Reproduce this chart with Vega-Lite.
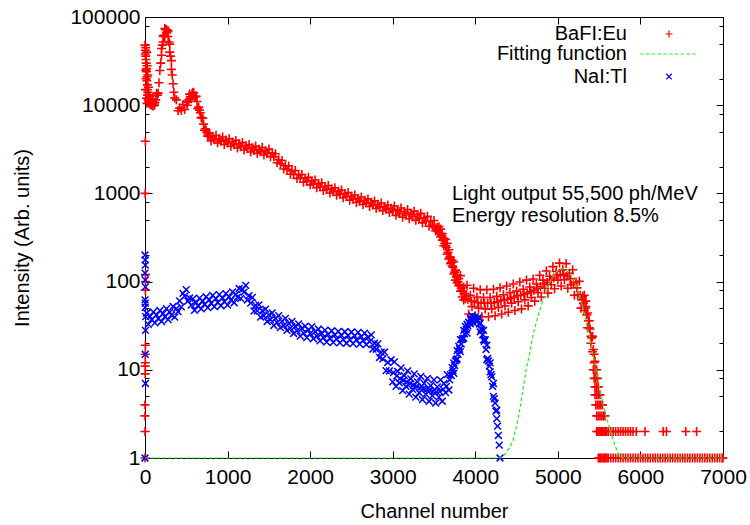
{
  "$schema": "https://vega.github.io/schema/vega-lite/v6.json",
  "width": 578,
  "height": 441,
  "autosize": {"type": "none"},
  "padding": {"left": 145, "top": 17, "right": 27, "bottom": 67},
  "background": "white",
  "datasets": {
    "bafi": [
      {"c":0,"v":1},{"c":0,"v":2},{"c":0,"v":3},{"c":0,"v":4},{"c":2,"v":9},{"c":2,"v":11},{"c":3,"v":12},{"c":3,"v":15},{"c":4,"v":19},{"c":5,"v":80},{"c":6,"v":100},{"c":6,"v":120},{"c":2,"v":1000},{"c":4,"v":3900},
      {"c":0,"v":48000},{"c":5,"v":42000},{"c":10,"v":36000},{"c":15,"v":30000},{"c":20,"v":26000},{"c":25,"v":21000},{"c":30,"v":17000},{"c":35,"v":14000},{"c":40,"v":12000},{"c":45,"v":11000},{"c":8,"v":45000},{"c":12,"v":33000},{"c":18,"v":24000},{"c":22,"v":19000},{"c":28,"v":15000},{"c":32,"v":13000},{"c":38,"v":11500},{"c":50,"v":10500},{"c":3,"v":38000},{"c":26,"v":28000},{"c":14,"v":20000},{"c":42,"v":16000},{"c":6,"v":15000},{"c":16,"v":12000},{"c":48,"v":13000},{"c":24,"v":10500},{"c":34,"v":22000},{"c":20,"v":40000},{"c":10,"v":25000},
      {"c":60,"v":12600},{"c":80,"v":10000},{"c":100,"v":10800},{"c":120,"v":10700},{"c":140,"v":13700},{"c":160,"v":13700},{"c":180,"v":24700},{"c":200,"v":36900},{"c":220,"v":60300},{"c":240,"v":60200},{"c":260,"v":72100},{"c":280,"v":60100},{"c":300,"v":49300},{"c":320,"v":25500},{"c":340,"v":17500},{"c":360,"v":12100},{"c":380,"v":11500},{"c":400,"v":8660},{"c":420,"v":9270},{"c":440,"v":8730},{"c":460,"v":10190},{"c":480,"v":8940},{"c":500,"v":10800},{"c":520,"v":10960},{"c":540,"v":13370},{"c":560,"v":11860},{"c":580,"v":14000},{"c":600,"v":12610},{"c":620,"v":12600},{"c":640,"v":9120},{"c":660,"v":8760},{"c":680,"v":7280},{"c":700,"v":7120},{"c":720,"v":5200},{"c":740,"v":5150},{"c":760,"v":4460},{"c":780,"v":4820},{"c":800,"v":3920},{"c":820,"v":4380},{"c":840,"v":4070},{"c":860,"v":4550},{"c":880,"v":3740},{"c":900,"v":4170},{"c":920,"v":3900},{"c":940,"v":4360},{"c":960,"v":3590},{"c":980,"v":4020},{"c":1000,"v":3730},
      {"c":65,"v":10200},{"c":70,"v":11500},{"c":90,"v":11000},{"c":95,"v":9800},{"c":110,"v":10300},{"c":115,"v":10000},{"c":130,"v":11500},{"c":150,"v":13000},{"c":170,"v":18000},{"c":190,"v":30000},{"c":200,"v":44000},{"c":210,"v":48000},{"c":220,"v":52000},{"c":230,"v":62000},{"c":240,"v":74000},{"c":250,"v":72000},{"c":260,"v":66000},{"c":270,"v":68000},{"c":280,"v":70000},{"c":290,"v":52000},{"c":300,"v":40000},{"c":310,"v":36000},{"c":320,"v":32000},{"c":330,"v":22000},{"c":350,"v":14000},
      {"c":510,"v":10000},{"c":530,"v":11500},{"c":550,"v":12500},{"c":570,"v":13500},{"c":590,"v":13800},{"c":610,"v":12500},{"c":630,"v":11000},{"c":650,"v":9500},{"c":670,"v":8200},{"c":690,"v":7100},{"c":710,"v":6100},{"c":730,"v":5400},{"c":750,"v":4900},{"c":770,"v":4500},{"c":790,"v":4400},
      {"c":1020,"v":4160},{"c":1040,"v":3430},{"c":1060,"v":3830},{"c":1080,"v":3570},{"c":1100,"v":3990},{"c":1120,"v":3270},{"c":1140,"v":3650},{"c":1160,"v":3390},{"c":1180,"v":3780},{"c":1200,"v":3100},{"c":1220,"v":3460},{"c":1240,"v":3220},{"c":1260,"v":3590},{"c":1280,"v":2950},{"c":1300,"v":3300},{"c":1320,"v":3070},{"c":1340,"v":3440},{"c":1360,"v":2840},{"c":1380,"v":3170},{"c":1400,"v":2960},{"c":1420,"v":3310},{"c":1440,"v":2730},{"c":1460,"v":3050},{"c":1480,"v":2840},{"c":1500,"v":3180},{"c":1520,"v":2610},{"c":1540,"v":2860},{"c":1560,"v":2600},{"c":1580,"v":2810},{"c":1600,"v":2230},{"c":1620,"v":2410},{"c":1640,"v":2170},{"c":1660,"v":2360},{"c":1680,"v":1890},{"c":1700,"v":2060},{"c":1720,"v":1870},{"c":1740,"v":2050},{"c":1760,"v":1650},{"c":1780,"v":1800},{"c":1800,"v":1650},{"c":1820,"v":1820},{"c":1840,"v":1480},{"c":1860,"v":1630},{"c":1880,"v":1490},{"c":1900,"v":1640},{"c":1920,"v":1340},{"c":1940,"v":1480},{"c":1960,"v":1370},{"c":1980,"v":1520},{"c":2000,"v":1250},
      {"c":2020,"v":1385},{"c":2040,"v":1280},{"c":2060,"v":1420},{"c":2080,"v":1160},{"c":2100,"v":1290},{"c":2120,"v":1190},{"c":2140,"v":1320},{"c":2160,"v":1080},{"c":2180,"v":1200},{"c":2200,"v":1110},{"c":2220,"v":1230},{"c":2240,"v":1010},{"c":2260,"v":1125},{"c":2280,"v":1045},{"c":2300,"v":1160},{"c":2320,"v":952},{"c":2340,"v":1060},{"c":2360,"v":982},{"c":2380,"v":1092},{"c":2400,"v":894},{"c":2420,"v":993},{"c":2440,"v":920},{"c":2460,"v":1021},{"c":2480,"v":835},{"c":2500,"v":927},{"c":2520,"v":861},{"c":2540,"v":960},{"c":2560,"v":788},{"c":2580,"v":878},{"c":2600,"v":815},{"c":2620,"v":910},{"c":2640,"v":748},{"c":2660,"v":834},{"c":2680,"v":776},{"c":2700,"v":866},{"c":2720,"v":711},{"c":2740,"v":793},{"c":2760,"v":737},{"c":2780,"v":822},{"c":2800,"v":675},{"c":2820,"v":752},{"c":2840,"v":698},{"c":2860,"v":778},{"c":2880,"v":638},{"c":2900,"v":711},{"c":2920,"v":662},{"c":2940,"v":739},{"c":2960,"v":607},{"c":2980,"v":678},{"c":3000,"v":631},
      {"c":3020,"v":719},{"c":3040,"v":564},{"c":3060,"v":651},{"c":3080,"v":593},{"c":3100,"v":683},{"c":3120,"v":538},{"c":3140,"v":622},{"c":3160,"v":568},{"c":3180,"v":656},{"c":3200,"v":516},{"c":3220,"v":597},{"c":3240,"v":545},{"c":3260,"v":629},{"c":3280,"v":495},{"c":3300,"v":572},{"c":3320,"v":518},{"c":3340,"v":594},{"c":3360,"v":463},{"c":3380,"v":530},{"c":3400,"v":480},{"c":3420,"v":549},{"c":3440,"v":425},{"c":3460,"v":485},{"c":3480,"v":435},{"c":3500,"v":493},{"c":3520,"v":374},{"c":3540,"v":414},{"c":3560,"v":360},{"c":3580,"v":394},{"c":3600,"v":294},{"c":3620,"v":310},{"c":3640,"v":255},{"c":3660,"v":271},{"c":3680,"v":181},{"c":3700,"v":189},{"c":3720,"v":150},{"c":3740,"v":167},{"c":3760,"v":104},{"c":3780,"v":119},{"c":3800,"v":90},{"c":3820,"v":117},{"c":3840,"v":67},{"c":3860,"v":87},{"c":3880,"v":64},
      {"c":3510,"v":410},{"c":3530,"v":390},{"c":3550,"v":378},{"c":3570,"v":350},{"c":3590,"v":330},{"c":3610,"v":300},{"c":3630,"v":270},{"c":3650,"v":245},{"c":3670,"v":215},{"c":3690,"v":190},{"c":3710,"v":165},{"c":3730,"v":145},{"c":3750,"v":128},{"c":3770,"v":113},{"c":3790,"v":100},{"c":3810,"v":92},{"c":3830,"v":84},{"c":3850,"v":78},{"c":3870,"v":73},{"c":3890,"v":68},
      {"c":3560,"v":420},{"c":3600,"v":350},{"c":3640,"v":300},{"c":3680,"v":230},{"c":3720,"v":175},{"c":3760,"v":135},{"c":3800,"v":108},{"c":3580,"v":320},{"c":3620,"v":255},{"c":3660,"v":205},{"c":3700,"v":160},{"c":3740,"v":122},{"c":3780,"v":97},{"c":3820,"v":78},{"c":3860,"v":62},
      {"c":3900,"v":91},{"c":3920,"v":43},{"c":3940,"v":70},{"c":3960,"v":52},{"c":3980,"v":84},{"c":4000,"v":41},{"c":4020,"v":67},{"c":4040,"v":50},{"c":4060,"v":81},{"c":4080,"v":40},{"c":4100,"v":66},{"c":4120,"v":49},{"c":4140,"v":81},{"c":4160,"v":40},{"c":4180,"v":66},{"c":4200,"v":49},{"c":4220,"v":82},{"c":4240,"v":41},{"c":4260,"v":68},{"c":4280,"v":51},{"c":4300,"v":85},{"c":4320,"v":43},{"c":4340,"v":71},{"c":4360,"v":53},{"c":4380,"v":89},{"c":4400,"v":45},{"c":4420,"v":75},{"c":4440,"v":57},{"c":4460,"v":94},{"c":4480,"v":47},{"c":4500,"v":78},{"c":4520,"v":59},{"c":4540,"v":99},{"c":4560,"v":49},{"c":4580,"v":82},{"c":4600,"v":62},{"c":4620,"v":104},{"c":4640,"v":53},{"c":4660,"v":87},{"c":4680,"v":66},
      {"c":4700,"v":107},{"c":4720,"v":60},{"c":4740,"v":94},{"c":4760,"v":75},{"c":4780,"v":118},{"c":4800,"v":67},{"c":4820,"v":104},{"c":4840,"v":84},{"c":4860,"v":132},{"c":4880,"v":74},{"c":4900,"v":115},{"c":4920,"v":92},{"c":4940,"v":148},{"c":4960,"v":83},{"c":4980,"v":130},{"c":5000,"v":104},{"c":5020,"v":162},{"c":5040,"v":89},{"c":5060,"v":136},{"c":5080,"v":105},{"c":5100,"v":160},{"c":5120,"v":84},{"c":5140,"v":124},{"c":5160,"v":92},{"c":5180,"v":136},{"c":5200,"v":70},{"c":5220,"v":99},{"c":5240,"v":71},{"c":5260,"v":101},{"c":5280,"v":50},{"c":5300,"v":68},{"c":5320,"v":47},{"c":5340,"v":60},{"c":5360,"v":30},{"c":5380,"v":36},{"c":5400,"v":24},{"c":5420,"v":24},{"c":5440,"v":12},
      {"c":3910,"v":63},{"c":3950,"v":60},{"c":3990,"v":59},{"c":4030,"v":58},{"c":4070,"v":57},{"c":4110,"v":57},{"c":4150,"v":57},{"c":4190,"v":57},{"c":4230,"v":58},{"c":4270,"v":59},{"c":4310,"v":61},{"c":4350,"v":62},{"c":4390,"v":63},{"c":4430,"v":65},{"c":4470,"v":67},{"c":4510,"v":69},{"c":4550,"v":70},{"c":4590,"v":72},{"c":4630,"v":74},{"c":4670,"v":77},{"c":4710,"v":80},{"c":4750,"v":84},{"c":4790,"v":88},{"c":4830,"v":94},{"c":4870,"v":98},{"c":4910,"v":104},{"c":4950,"v":110},{"c":4990,"v":117},{"c":5030,"v":120},{"c":5070,"v":120},{"c":5110,"v":116},{"c":5150,"v":108},{"c":5190,"v":97},{"c":5230,"v":85},{"c":5270,"v":70},{"c":5310,"v":57},
      {"c":5290,"v":62},{"c":5330,"v":50},{"c":5350,"v":42},{"c":5370,"v":36},{"c":5390,"v":29},{"c":5410,"v":23},{"c":5430,"v":17},{"c":5450,"v":12.5},{"c":5320,"v":70},{"c":5340,"v":52},{"c":5360,"v":44},{"c":5380,"v":30},{"c":5400,"v":20},{"c":5420,"v":16},{"c":5440,"v":15},
      {"c":5430,"v":10},{"c":5450,"v":10},{"c":5470,"v":10},{"c":5440,"v":8},{"c":5460,"v":8},{"c":5480,"v":8},{"c":5450,"v":6.4},{"c":5470,"v":6.4},{"c":5490,"v":6.4},{"c":5450,"v":5.2},{"c":5470,"v":5.2},{"c":5490,"v":5.2},{"c":5510,"v":5.2},{"c":5460,"v":4},{"c":5480,"v":4},{"c":5500,"v":4},{"c":5520,"v":4},{"c":5540,"v":4},{"c":5470,"v":3},{"c":5490,"v":3},{"c":5510,"v":3},{"c":5530,"v":3},{"c":5550,"v":3},{"c":5570,"v":3},
      {"c":5470,"v":2},{"c":5485,"v":2},{"c":5500,"v":2},{"c":5515,"v":2},{"c":5530,"v":2},{"c":5545,"v":2},{"c":5560,"v":2},{"c":5575,"v":2},{"c":5590,"v":2},{"c":5610,"v":2},{"c":5640,"v":2},{"c":5670,"v":2},{"c":5700,"v":2},{"c":5730,"v":2},{"c":5760,"v":2},{"c":5790,"v":2},{"c":5820,"v":2},{"c":5850,"v":2},{"c":5880,"v":2},{"c":5910,"v":2},{"c":5950,"v":2},{"c":6055,"v":2},{"c":6275,"v":2},{"c":6315,"v":2},{"c":6550,"v":2},{"c":6680,"v":2},
      {"c":5490,"v":1},{"c":5505,"v":1},{"c":5520,"v":1},{"c":5535,"v":1},{"c":5550,"v":1},{"c":5565,"v":1},{"c":5580,"v":1},{"c":5595,"v":1},{"c":5610,"v":1},{"c":5640,"v":1},{"c":5670,"v":1},{"c":5700,"v":1},{"c":5730,"v":1},{"c":5760,"v":1},{"c":5790,"v":1},{"c":5820,"v":1},{"c":5850,"v":1},{"c":5880,"v":1},{"c":5910,"v":1},{"c":5940,"v":1},{"c":5970,"v":1},{"c":6000,"v":1},{"c":6030,"v":1},{"c":6060,"v":1},{"c":6090,"v":1},{"c":6120,"v":1},{"c":6150,"v":1},{"c":6180,"v":1},{"c":6210,"v":1},{"c":6240,"v":1},{"c":6270,"v":1},{"c":6300,"v":1},{"c":6330,"v":1},{"c":6360,"v":1},{"c":6390,"v":1},{"c":6420,"v":1},{"c":6450,"v":1},{"c":6480,"v":1},{"c":6510,"v":1},{"c":6540,"v":1},{"c":6570,"v":1},{"c":6600,"v":1},{"c":6630,"v":1},{"c":6660,"v":1},{"c":6690,"v":1},{"c":6720,"v":1},{"c":6750,"v":1},{"c":6780,"v":1},{"c":6810,"v":1},{"c":6840,"v":1},{"c":6870,"v":1},{"c":6900,"v":1},{"c":6930,"v":1},{"c":6960,"v":1},{"c":6990,"v":1},{"c":7000,"v":1}
    ],
    "nai": [
      {"c":0,"v":200},{"c":2,"v":176},{"c":4,"v":154},{"c":0,"v":125},{"c":3,"v":104},{"c":5,"v":87},{"c":1,"v":62},{"c":4,"v":57},{"c":2,"v":51},{"c":6,"v":28},{"c":3,"v":15},{"c":5,"v":7},{"c":0,"v":1},{"c":8,"v":40},
      {"c":20,"v":44},{"c":40,"v":32.7},{"c":60,"v":40.4},{"c":80,"v":37},{"c":100,"v":45.2},{"c":120,"v":34},{"c":140,"v":42},{"c":160,"v":38},{"c":180,"v":47},{"c":200,"v":35.3},{"c":220,"v":43.6},{"c":240,"v":39.9},{"c":260,"v":49.3},{"c":280,"v":37},{"c":300,"v":45.2},{"c":320,"v":41.8},{"c":340,"v":52.2},{"c":360,"v":39.6},{"c":380,"v":49.4},{"c":400,"v":45.6},{"c":420,"v":60.3},{"c":440,"v":51.6},{"c":460,"v":73.5},{"c":480,"v":68.4},{"c":500,"v":81.2},{"c":520,"v":60.2},{"c":540,"v":65.1},{"c":560,"v":54.2},{"c":580,"v":63.8},{"c":600,"v":47.3},{"c":620,"v":57.8},{"c":640,"v":53.2},{"c":660,"v":65},{"c":680,"v":49},{"c":700,"v":59.9},{"c":720,"v":55.1},{"c":740,"v":67.3},{"c":760,"v":50.7},{"c":780,"v":62},{"c":800,"v":57},{"c":820,"v":69.6},{"c":840,"v":52},{"c":860,"v":64},{"c":880,"v":58},{"c":900,"v":71.3},{"c":920,"v":53.3},{"c":940,"v":65.1},{"c":960,"v":59.4},{"c":980,"v":73.1},{"c":1000,"v":54.2},
      {"c":1020,"v":67.2},{"c":1040,"v":61.8},{"c":1060,"v":76.6},{"c":1080,"v":57.6},{"c":1100,"v":71.4},{"c":1120,"v":66.5},{"c":1140,"v":83.5},{"c":1160,"v":64.5},{"c":1180,"v":81.9},{"c":1200,"v":76},{"c":1220,"v":90.5},{"c":1240,"v":61.9},{"c":1260,"v":69.3},{"c":1280,"v":57},{"c":1300,"v":66.1},{"c":1320,"v":46.4},{"c":1340,"v":53.6},{"c":1360,"v":46.6},{"c":1380,"v":54.5},{"c":1400,"v":39.6},{"c":1420,"v":46.7},{"c":1440,"v":40.9},{"c":1460,"v":48.7},{"c":1480,"v":35.3},{"c":1500,"v":42},{"c":1520,"v":37},{"c":1540,"v":44.1},{"c":1560,"v":31.8},{"c":1580,"v":38.3},{"c":1600,"v":34.2},{"c":1620,"v":41.2},{"c":1640,"v":30.1},{"c":1660,"v":35.7},{"c":1680,"v":31.8},{"c":1700,"v":38.3},{"c":1720,"v":28},{"c":1740,"v":33.6},{"c":1760,"v":29.5},{"c":1780,"v":35.4},{"c":1800,"v":25.8},{"c":1820,"v":31},{"c":1840,"v":27.6},{"c":1860,"v":33.1},{"c":1880,"v":24.1},{"c":1900,"v":29.4},{"c":1920,"v":26.1},{"c":1940,"v":31.3},{"c":1960,"v":23.2},{"c":1980,"v":28.4},{"c":2000,"v":25.7},
      {"c":2020,"v":30.9},{"c":2040,"v":22.5},{"c":2060,"v":27.1},{"c":2080,"v":24.1},{"c":2100,"v":29},{"c":2120,"v":21.3},{"c":2140,"v":25.8},{"c":2160,"v":23.2},{"c":2180,"v":28.1},{"c":2200,"v":20.6},{"c":2220,"v":25.2},{"c":2240,"v":22.8},{"c":2260,"v":27.7},{"c":2280,"v":20.5},{"c":2300,"v":24.9},{"c":2320,"v":22.4},{"c":2340,"v":27.3},{"c":2360,"v":20.2},{"c":2380,"v":24.6},{"c":2400,"v":22.1},{"c":2420,"v":27},{"c":2440,"v":20},{"c":2460,"v":24.4},{"c":2480,"v":21.9},{"c":2500,"v":26.8},{"c":2520,"v":19.8},{"c":2540,"v":24.2},{"c":2560,"v":21.9},{"c":2580,"v":26.6},{"c":2600,"v":19.6},{"c":2620,"v":23.8},{"c":2640,"v":21.5},{"c":2660,"v":26.1},{"c":2680,"v":19.3},{"c":2700,"v":23.4},{"c":2720,"v":20.9},{"c":2740,"v":24.9},{"c":2760,"v":17.2},{"c":2780,"v":20},{"c":2800,"v":17.1},{"c":2820,"v":19.7},{"c":2840,"v":13.8},{"c":2860,"v":15.8},{"c":2880,"v":13.3},{"c":2900,"v":15.9},{"c":2920,"v":9.8},{"c":2940,"v":12.1},{"c":2960,"v":9.7},{"c":2980,"v":13},{"c":3000,"v":7.3},
      {"c":3020,"v":12.3},{"c":3040,"v":6.5},{"c":3060,"v":9.6},{"c":3080,"v":7.1},{"c":3100,"v":10.5},{"c":3120,"v":5.8},{"c":3140,"v":8.6},{"c":3160,"v":6.5},{"c":3180,"v":9.7},{"c":3200,"v":5.3},{"c":3220,"v":7.9},{"c":3240,"v":6},{"c":3260,"v":9},{"c":3280,"v":4.9},{"c":3300,"v":7.3},{"c":3320,"v":5.5},{"c":3340,"v":8.4},{"c":3360,"v":4.6},{"c":3380,"v":7},{"c":3400,"v":5.3},{"c":3420,"v":8},{"c":3440,"v":4.4},{"c":3460,"v":6.6},{"c":3480,"v":5.1},{"c":3500,"v":7.7},{"c":3520,"v":4.2},{"c":3540,"v":6.4},{"c":3560,"v":4.9},{"c":3580,"v":7.7},{"c":3600,"v":4.4},{"c":3620,"v":7},{"c":3640,"v":5.5},{"c":3660,"v":8.8},{"c":3680,"v":5.9},{"c":3700,"v":8.8},
      {"c":3010,"v":9.3},{"c":3050,"v":8.55},{"c":3090,"v":7.95},{"c":3130,"v":7.6},{"c":3170,"v":7.3},{"c":3210,"v":6.95},{"c":3250,"v":6.7},{"c":3290,"v":6.45},{"c":3330,"v":6.25},{"c":3370,"v":6.1},{"c":3410,"v":5.97},{"c":3450,"v":5.85},{"c":3490,"v":5.7},{"c":3530,"v":5.62},{"c":3570,"v":5.65},{"c":3610,"v":6},{"c":3650,"v":6.5},{"c":3690,"v":7.7},
      {"c":3720,"v":10.6},{"c":3740,"v":9.1},{"c":3760,"v":12.6},{"c":3780,"v":13.3},{"c":3800,"v":18.4},{"c":3820,"v":16.1},{"c":3840,"v":22},{"c":3860,"v":22.8},{"c":3880,"v":31},{"c":3900,"v":26.1},{"c":3920,"v":34.7},{"c":3940,"v":33.3},{"c":3960,"v":41},{"c":3980,"v":34},{"c":4000,"v":40},{"c":4020,"v":35},{"c":4040,"v":39},{"c":4060,"v":27},{"c":4080,"v":28.4},{"c":4100,"v":21.9},{"c":4120,"v":21.9},{"c":4140,"v":13},{"c":4160,"v":12.6},{"c":4180,"v":9.5},{"c":4200,"v":8.3},{"c":4220,"v":5},{"c":4240,"v":4.2},{"c":4260,"v":2.8},{"c":4280,"v":1.8},{"c":4300,"v":1},
      {"c":3710,"v":8.6},{"c":3730,"v":9.8},{"c":3750,"v":11.2},{"c":3770,"v":13},{"c":3790,"v":15},{"c":3810,"v":17.2},{"c":3830,"v":19.7},{"c":3850,"v":22.5},{"c":3870,"v":25.5},{"c":3890,"v":28.5},{"c":3910,"v":31.5},{"c":3930,"v":34},{"c":3950,"v":36},{"c":3970,"v":37.5},{"c":3990,"v":38},{"c":4010,"v":37.5},{"c":4030,"v":36},{"c":4050,"v":33},{"c":4070,"v":29},{"c":4090,"v":25},{"c":4110,"v":21},{"c":4130,"v":17},{"c":4150,"v":13.5},{"c":4170,"v":11},{"c":4190,"v":8.8},{"c":4210,"v":6.5},{"c":4230,"v":4.7},{"c":4250,"v":3.4},{"c":4270,"v":2.3},{"c":4290,"v":1.4},
      {"c":4060,"v":34},{"c":4100,"v":28},{"c":4140,"v":19},{"c":4180,"v":12},{"c":4220,"v":7},{"c":4260,"v":3.5},{"c":3740,"v":12},{"c":3780,"v":16.5},{"c":3820,"v":22},{"c":3860,"v":28},{"c":3900,"v":33},{"c":3940,"v":38}
    ],
    "fit": [
      {"c":0,"v":1},{"c":4300,"v":1},{"c":4360,"v":1.1},{"c":4420,"v":1.34},{"c":4460,"v":1.6},{"c":4500,"v":2.3},{"c":4540,"v":3.6},{"c":4580,"v":6.2},{"c":4620,"v":10.5},{"c":4663,"v":16},{"c":4700,"v":25},{"c":4760,"v":41},{"c":4824,"v":63},{"c":4880,"v":88},{"c":4925,"v":109},{"c":4980,"v":128},{"c":5020,"v":137},{"c":5050,"v":140},{"c":5090,"v":136},{"c":5130,"v":126},{"c":5167,"v":115},{"c":5220,"v":90},{"c":5268,"v":67},{"c":5330,"v":40},{"c":5389,"v":22},{"c":5450,"v":11.5},{"c":5510,"v":5.9},{"c":5570,"v":3.3},{"c":5631,"v":2.1},{"c":5690,"v":1.4},{"c":5752,"v":1.03},{"c":5800,"v":1},{"c":7000,"v":1}
    ]
  },
  "layer": [
    {
      "data": {"name": "bafi"},
      "mark": {"type": "point", "filled": false, "opacity": 1, "strokeWidth": 1.6, "size": 81, "shape": "M-1,0L1,0M0,-1L0,1", "color": "#ff0000"},
      "encoding": {
        "x": {"field": "c", "type": "quantitative", "scale": {"domain": [0, 7000], "nice": false, "zero": false},
              "axis": {"orient": "bottom", "values": [0,1000,2000,3000,4000,5000,6000,7000], "format": "d", "title": "Channel number", "tickSize": -7, "labelPadding": 15, "titleBaseline": "alphabetic", "titleY": 59}},
        "y": {"field": "v", "type": "quantitative", "scale": {"type": "log", "domain": [1, 100000], "nice": false},
              "axis": {"orient": "left", "values": [1,10,100,1000,10000,100000], "format": "d", "title": "Intensity (Arb. units)", "tickSize": -7, "labelPadding": 12, "titleBaseline": "alphabetic", "titleX": -117}}
      }
    },
    {
      "data": {"name": "nai"},
      "mark": {"type": "point", "filled": false, "opacity": 1, "strokeWidth": 1.5, "size": 72, "shape": "M-0.8,-0.8L0.8,0.8M-0.8,0.8L0.8,-0.8", "color": "#0000ff"},
      "encoding": {
        "x": {"field": "c", "type": "quantitative",
              "axis": {"orient": "top", "values": [0,1000,2000,3000,4000,5000,6000,7000], "labels": false, "title": null, "tickSize": -7}},
        "y": {"field": "v", "type": "quantitative",
              "axis": {"orient": "right", "values": [1,10,100,1000,10000,100000], "labels": false, "title": null, "tickSize": -7}}
      }
    },
    {
      "data": {"name": "fit"},
      "mark": {"type": "line", "color": "#22ee22", "strokeWidth": 1.2, "strokeDash": [3.5, 2.3]},
      "encoding": {
        "x": {"field": "c", "type": "quantitative", "axis": null},
        "y": {"field": "v", "type": "quantitative",
              "axis": {"orient": "left", "values": [2,5,8,20,50,80,200,500,800,2000,5000,8000,20000,50000,80000], "labels": false, "title": null, "tickSize": -4, "domain": false}}
      }
    },
    {
      "data": {"values": [{}]},
      "mark": {"type": "text", "text": "Light output 55,500 ph/MeV", "align": "left", "baseline": "alphabetic", "fontSize": 20, "font": "Liberation Sans", "color": "#000"},
      "encoding": {
        "x": {"datum": 3718, "type": "quantitative", "axis": null},
        "y": {"datum": 841, "type": "quantitative",
              "axis": {"orient": "right", "values": [2,5,8,20,50,80,200,500,800,2000,5000,8000,20000,50000,80000], "labels": false, "title": null, "tickSize": -4, "domain": false}}
      }
    },
    {
      "data": {"values": [{}]},
      "mark": {"type": "text", "text": "Energy resolution 8.5%", "align": "left", "baseline": "alphabetic", "fontSize": 20, "font": "Liberation Sans", "color": "#000"},
      "encoding": {
        "x": {"datum": 3718, "type": "quantitative", "axis": null},
        "y": {"datum": 474, "type": "quantitative", "axis": null}
      }
    },
    {
      "data": {"values": [{}]},
      "mark": {"type": "text", "text": "BaFI:Eu", "align": "right", "baseline": "alphabetic", "fontSize": 20, "font": "Liberation Sans", "color": "#000"},
      "encoding": {
        "x": {"datum": 5837, "type": "quantitative", "axis": null},
        "y": {"datum": 54800, "type": "quantitative", "axis": null}
      }
    },
    {
      "data": {"values": [{}]},
      "mark": {"type": "text", "text": "Fitting function", "align": "right", "baseline": "alphabetic", "fontSize": 20, "font": "Liberation Sans", "color": "#000"},
      "encoding": {
        "x": {"datum": 5837, "type": "quantitative", "axis": null},
        "y": {"datum": 32550, "type": "quantitative", "axis": null}
      }
    },
    {
      "data": {"values": [{}]},
      "mark": {"type": "text", "text": "NaI:Tl", "align": "right", "baseline": "alphabetic", "fontSize": 20, "font": "Liberation Sans", "color": "#000"},
      "encoding": {
        "x": {"datum": 5837, "type": "quantitative", "axis": null},
        "y": {"datum": 18000, "type": "quantitative", "axis": null}
      }
    },
    {
      "data": {"values": [{}]},
      "mark": {"type": "point", "filled": false, "opacity": 1, "strokeWidth": 1.2, "size": 49, "shape": "M-1,0L1,0M0,-1L0,1", "color": "#ff0000"},
      "encoding": {
        "x": {"datum": 6346, "type": "quantitative", "axis": null},
        "y": {"datum": 64200, "type": "quantitative", "axis": null}
      }
    },
    {
      "data": {"values": [{}]},
      "mark": {"type": "rule", "color": "#22ee22", "strokeWidth": 1.2, "strokeDash": [3.5, 2.3]},
      "encoding": {
        "x": {"datum": 5995, "type": "quantitative", "axis": null},
        "x2": {"datum": 6697},
        "y": {"datum": 38050, "type": "quantitative", "axis": null}
      }
    },
    {
      "data": {"values": [{}]},
      "mark": {"type": "point", "filled": false, "opacity": 1, "strokeWidth": 1.2, "size": 49, "shape": "M-0.8,-0.8L0.8,0.8M-0.8,0.8L0.8,-0.8", "color": "#0000ff"},
      "encoding": {
        "x": {"datum": 6346, "type": "quantitative", "axis": null},
        "y": {"datum": 21150, "type": "quantitative", "axis": null}
      }
    }
  ],
  "resolve": {"axis": {"x": "independent", "y": "independent"}},
  "config": {
    "font": "Liberation Sans",
    "view": {"stroke": "#000", "strokeWidth": 1},
    "axis": {"grid": false, "domainColor": "#000", "tickColor": "#000", "labelColor": "#000", "titleColor": "#000",
             "labelFont": "Liberation Sans", "labelFontSize": 21, "titleFont": "Liberation Sans", "titleFontSize": 20, "titleFontWeight": "normal",
             "labelFlush": false, "labelOverlap": false}
  }
}
